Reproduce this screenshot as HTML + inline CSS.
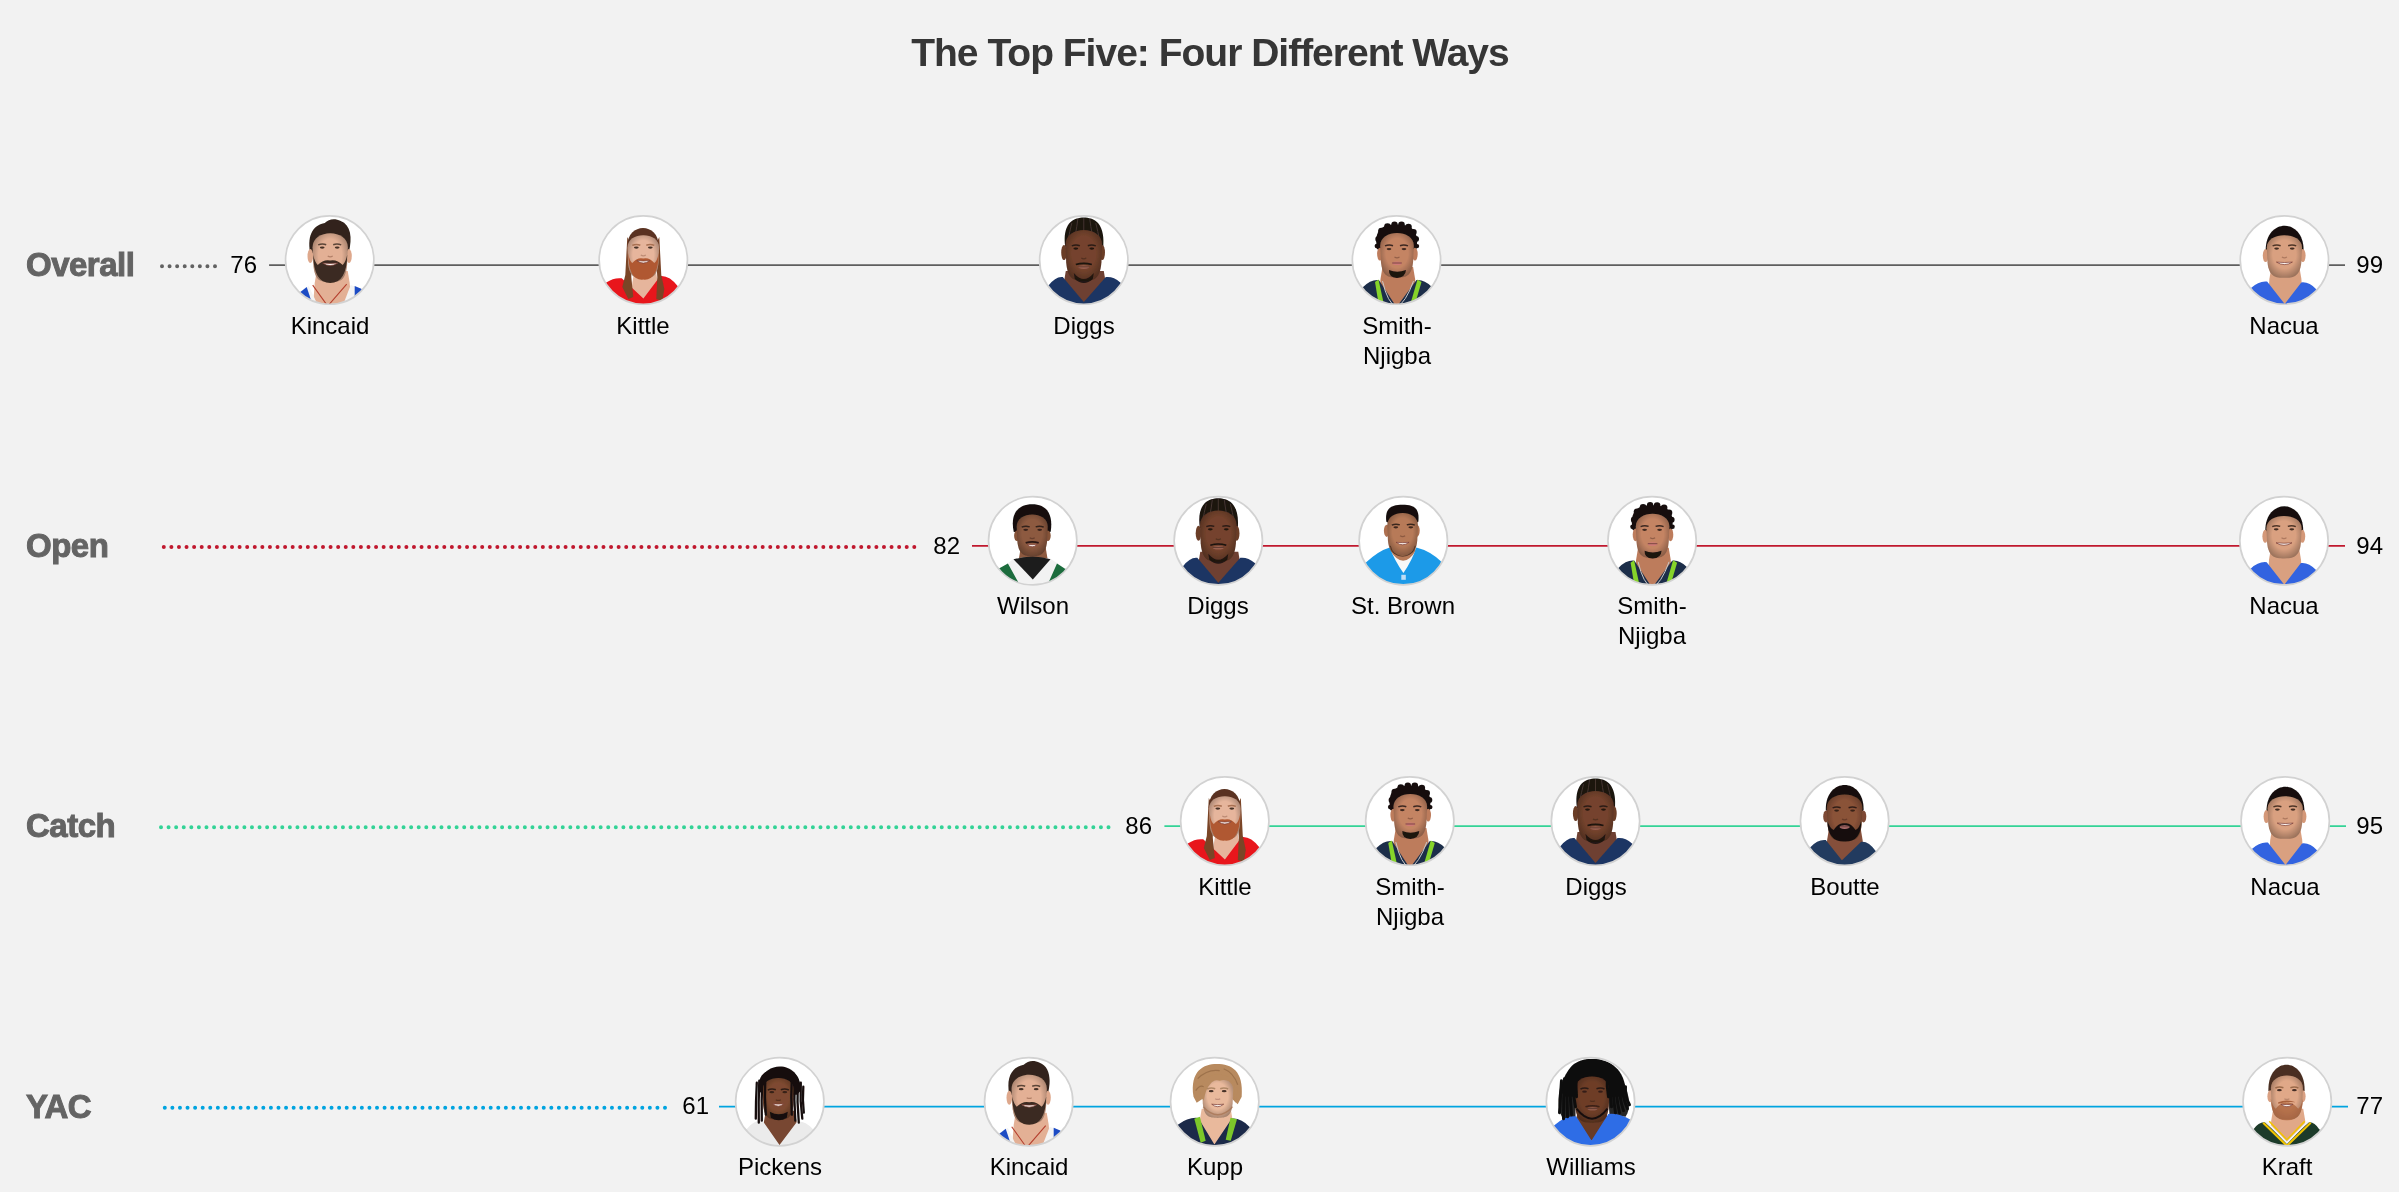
<!DOCTYPE html><html><head><meta charset="utf-8"><style>html,body{margin:0;padding:0;background:#f2f2f2;}
body{width:2399px;height:1192px;overflow:hidden;position:relative;font-family:"Liberation Sans",sans-serif;}
.t{position:absolute;white-space:nowrap;line-height:1;will-change:transform;}
.title{left:0;width:2420px;text-align:center;top:0;font-weight:700;font-size:39px;color:#363636;letter-spacing:-1px;}
.lab{left:26px;font-weight:700;font-size:33px;color:#646464;-webkit-text-stroke:1px #646464;letter-spacing:-0.5px;}
.num{font-size:24px;color:#000;}
.name{font-size:24px;color:#000;text-align:center;width:200px;line-height:30px;}
svg{position:absolute;left:0;top:0;}
</style></head><body><svg width="2399" height="1192" viewBox="0 0 2399 1192"><defs><filter id="soft" x="-5%" y="-5%" width="110%" height="110%"><feGaussianBlur stdDeviation="0.4"/></filter><radialGradient id="fsh" cx="0.5" cy="0.45" r="0.6"><stop offset="0.55" stop-color="#000" stop-opacity="0"/><stop offset="1" stop-color="#000" stop-opacity="0.32"/></radialGradient><clipPath id="c_kincaid"><circle cx="45" cy="45" r="44.2"/></clipPath><g id="p_kincaid"><g clip-path="url(#c_kincaid)"><circle cx="45" cy="45" r="45" fill="#fff"/><g filter="url(#soft)"><path d="M32.0 56.0 L63.0 56.0 L65.0 68.0 L67.0 96 L28.0 96 L30.0 68.0 Z" fill="#e3b095"/><path d="M10 80 L24 71 L36 96 L0 96 Z" fill="#f4f4f4"/><path d="M66 70 L78 74 L90 90 L56 96 Z" fill="#f4f4f4"/><path d="M15.7 77 L22 72 L30 96 L0 96 Z" fill="#1f4cc4"/><path d="M70 71 L76.5 73.7 L90 90 L70 96 Z" fill="#1f4cc4"/><path d="M28 70 L43 91 L62 69" stroke="#b5402e" stroke-width="1.1" fill="none"/><path d="M25.5 38 C22 18 30 10 40 8 C44 4 50 3 56 6 C66 10 68 22 64 38 L56 40 L34 40 Z" fill="#33241c"/><ellipse cx="25.6" cy="41.0" rx="2.8" ry="7.0" fill="#dea88c"/><ellipse cx="64.3" cy="41.0" rx="2.8" ry="7.0" fill="#dea88c"/><path d="M27.9 32.2 C27.9 13.4 63.1 13.4 63.1 32.2 L62.4 49.3 C61.0 65.4 55.5 67.0 45.5 67.0 C35.5 67.0 30.0 65.4 28.6 49.3 Z" fill="#e3b095"/><path d="M27.9 32.2 C27.9 13.4 63.1 13.4 63.1 32.2 L62.4 49.3 C61.0 65.4 55.5 67.0 45.5 67.0 C35.5 67.0 30.0 65.4 28.6 49.3 Z" fill="url(#fsh)"/><path d="M28.5 40 Q29 68 45.5 68 Q62 68 62.5 40 Q61 47 58 50 Q52 44 45.5 45.5 Q39 44 33 50 Q30 47 28.5 40 Z" fill="#3a2a20"/><ellipse cx="37.5" cy="32.5" rx="2.4" ry="1.1" fill="#2a1a14" opacity="0.85"/><ellipse cx="52.5" cy="32.5" rx="2.4" ry="1.1" fill="#2a1a14" opacity="0.85"/><path d="M33.5 29.8 Q37.5 28.0 41.5 29.6 M48.5 29.6 Q52.5 28.0 56.5 29.8" stroke="#3a2a20" stroke-width="1.5" fill="none" opacity="0.8"/><path d="M43.0 41.0 Q45.5 42.5 48.0 41.0" stroke="#8a5a44" stroke-width="1.2" fill="none" opacity="0.55"/><path d="M38.0 48.0 Q45.5 48.8 53.0 48.0 Q45.5 53.0 38.0 48.0 Z" fill="#fbf4f0" stroke="#7a3a30" stroke-width="0.7"/></g></g><circle cx="45" cy="45" r="44.15" fill="none" stroke="#d2d2d2" stroke-width="1.7"/></g><clipPath id="c_kittle"><circle cx="45" cy="45" r="44.2"/></clipPath><g id="p_kittle"><g clip-path="url(#c_kittle)"><circle cx="45" cy="45" r="45" fill="#fff"/><g filter="url(#soft)"><path d="M36.0 56.0 L57.6 56.0 L59.6 68.0 L61.6 96 L32.0 96 L34.0 68.0 Z" fill="#e6b59c"/><path d="M2.0 71.3 L8.0 67.3 Q15.7 62.2 23.4 63.2 L45.1 83.4 L62.0 61.0 Q70.8 60.0 79.7 71.3 L85.7 75.3 L96 96 L-6 96 Z" fill="#e8141e"/><path d="M29 22 L27 60 L24 72 L30 84 L35 82 L33 62 L33 30 Z" fill="#7a4428"/><path d="M61 22 L63 60 L66 74 L64 86 L58 84 L59 62 L57 30 Z" fill="#7a4428"/><path d="M29.0 32.0 C28.2 6.5 61.2 6.5 60.4 32.0 L56.4 36.0 L33.0 36.0 Z" fill="#5a3220"/><path d="M29.2 32.6 C29.2 16.1 60.8 16.1 60.8 32.6 L60.2 47.7 C58.9 61.8 54.0 63.2 45.0 63.2 C36.0 63.2 31.1 61.8 29.8 47.7 Z" fill="#e6b59c"/><path d="M29.2 32.6 C29.2 16.1 60.8 16.1 60.8 32.6 L60.2 47.7 C58.9 61.8 54.0 63.2 45.0 63.2 C36.0 63.2 31.1 61.8 29.8 47.7 Z" fill="url(#fsh)"/><path d="M30 38 Q30 66 45 64.5 Q60 66 60.4 38 Q59 46 56 48 Q51 42 45 43.5 Q39 42 34 48 Q31 46 30 38 Z" fill="#b05830"/><ellipse cx="38" cy="32.5" rx="2.4" ry="1.1" fill="#2a1a14" opacity="0.85"/><ellipse cx="52" cy="32.5" rx="2.4" ry="1.1" fill="#2a1a14" opacity="0.85"/><path d="M34.0 30.3 Q38.0 28.5 42.0 30.1 M48.0 30.1 Q52.0 28.5 56.0 30.3" stroke="#9a6040" stroke-width="1.5" fill="none" opacity="0.8"/><path d="M42.5 40.0 Q45.0 41.5 47.5 40.0" stroke="#9a6a54" stroke-width="1.2" fill="none" opacity="0.55"/><path d="M38.5 45.5 Q45.0 46.3 51.5 45.5 Q45.0 50.5 38.5 45.5 Z" fill="#fbf4f0" stroke="#7a3a30" stroke-width="0.7"/></g></g><circle cx="45" cy="45" r="44.15" fill="none" stroke="#d2d2d2" stroke-width="1.7"/></g><clipPath id="c_diggs"><circle cx="45" cy="45" r="44.2"/></clipPath><g id="p_diggs"><g clip-path="url(#c_diggs)"><circle cx="45" cy="45" r="45" fill="#fff"/><g filter="url(#soft)"><path d="M27.0 56.0 L65.0 56.0 L67.0 68.0 L69.0 96 L23.0 96 L25.0 68.0 Z" fill="#6e4030"/><path d="M3.7 74.5 L9.7 70.5 Q16.9 61.0 24.0 62.0 L45.0 87.0 L67.0 62.0 Q74.2 61.0 81.5 67.3 L87.5 71.3 L96 96 L-6 96 Z" fill="#1e3563"/><path d="M26.5 32 C24 14 30 6 38 3.5 C42 2 48 2 52 3.5 C60 6 66 14 64.5 32 L56 34 L34 34 Z" fill="#1a1411"/><path d="M33 8 Q31 16 29 26 M39 4 Q38 12 37 17 M45 3 L45 15 M51 4 Q52 12 53 17 M57 8 Q59 16 61 26" stroke="#4a3a32" stroke-width="0.9" fill="none"/><ellipse cx="25.2" cy="37.5" rx="2.8" ry="7.5" fill="#6a3c28"/><ellipse cx="63.4" cy="37.5" rx="2.8" ry="7.5" fill="#6a3c28"/><path d="M26.7 29.5 C26.7 9.9 63.3 9.9 63.3 29.5 L62.6 47.5 C61.1 64.4 55.0 66.0 45.0 66.0 C35.0 66.0 28.9 64.4 27.4 47.5 Z" fill="#74432d"/><path d="M26.7 29.5 C26.7 9.9 63.3 9.9 63.3 29.5 L62.6 47.5 C61.1 64.4 55.0 66.0 45.0 66.0 C35.0 66.0 28.9 64.4 27.4 47.5 Z" fill="url(#fsh)"/><path d="M35 58 Q45 70 55 58 L54 64 Q45 72 36 64 Z" fill="#1a1210" opacity="0.9"/><ellipse cx="37" cy="33.5" rx="2.4" ry="1.1" fill="#120c0a" opacity="0.85"/><ellipse cx="53" cy="33.5" rx="2.4" ry="1.1" fill="#120c0a" opacity="0.85"/><path d="M33.0 30.8 Q37.0 29.0 41.0 30.6 M49.0 30.6 Q53.0 29.0 57.0 30.8" stroke="#1a1210" stroke-width="1.5" fill="none" opacity="0.8"/><path d="M42.5 43.0 Q45.0 44.5 47.5 43.0" stroke="#3a2018" stroke-width="1.2" fill="none" opacity="0.55"/><path d="M37 49.5 Q45 47 53 49.5" stroke="#1a1210" stroke-width="1.6" fill="none"/><ellipse cx="45" cy="52" rx="5.5" ry="1.8" fill="#9a6050"/><path d="M39.5 51.7 L50.5 51.7" stroke="#3a2018" stroke-width="0.8" opacity="0.7"/></g></g><circle cx="45" cy="45" r="44.15" fill="none" stroke="#d2d2d2" stroke-width="1.7"/></g><clipPath id="c_jsn"><circle cx="45" cy="45" r="44.2"/></clipPath><g id="p_jsn"><g clip-path="url(#c_jsn)"><circle cx="45" cy="45" r="45" fill="#fff"/><g filter="url(#soft)"><path d="M31.0 52.0 L61.6 52.0 L63.6 64.0 L65.6 96 L27.0 96 L29.0 64.0 Z" fill="#bd7c5c"/><path d="M5.3 76.1 L11.3 72.1 Q19.4 63.9 27.4 64.9 L45.0 92.0 L65.0 64.9 Q72.4 63.9 79.8 71.3 L85.8 75.3 L96 96 L-6 96 Z" fill="#1f2f4a"/><path d="M23.5 67 L27 64.5 L33 92 L28 94 Z" fill="#86d42a"/><path d="M66 64.5 L70 67 L62 94 L58 92 Z" fill="#86d42a"/><path d="M31 66 Q36 88 45 92 Q54 88 62 66" stroke="#c8c8c8" stroke-width="1" fill="none"/><path d="M25.5 34 C22 14 31 9.5 45 9.5 C59 9.5 68 14 65 34 L56 38 L34 38 Z" fill="#151010"/><circle cx="27" cy="24" r="3.2" fill="#151010"/><circle cx="30" cy="16" r="3.4" fill="#151010"/><circle cx="36" cy="11.5" r="3.4" fill="#151010"/><circle cx="43" cy="9.5" r="3.2" fill="#151010"/><circle cx="50" cy="9.8" r="3.3" fill="#151010"/><circle cx="57" cy="12" r="3.3" fill="#151010"/><circle cx="62" cy="17" r="3.2" fill="#151010"/><circle cx="64.5" cy="24" r="3" fill="#151010"/><circle cx="25.5" cy="31" r="2.4" fill="#151010"/><circle cx="65.5" cy="31" r="2.2" fill="#151010"/><ellipse cx="28.4" cy="39.0" rx="2.8" ry="6.4" fill="#bd7c5c"/><ellipse cx="63.4" cy="39.0" rx="2.8" ry="6.4" fill="#bd7c5c"/><path d="M28.7 30.6 C28.7 13.6 62.3 13.6 62.3 30.6 L61.6 46.3 C60.3 61.0 54.5 62.4 45.5 62.4 C36.5 62.4 30.7 61.0 29.4 46.3 Z" fill="#c48464"/><path d="M28.7 30.6 C28.7 13.6 62.3 13.6 62.3 30.6 L61.6 46.3 C60.3 61.0 54.5 62.4 45.5 62.4 C36.5 62.4 30.7 61.0 29.4 46.3 Z" fill="url(#fsh)"/><path d="M37.5 55 Q45.5 58.5 54.5 55 Q54 62.4 45.5 62.8 Q37 62.4 37.5 55 Z" fill="#1a1210"/><ellipse cx="37.5" cy="34" rx="2.4" ry="1.1" fill="#2a1a14" opacity="0.85"/><ellipse cx="52.5" cy="34" rx="2.4" ry="1.1" fill="#2a1a14" opacity="0.85"/><path d="M33.5 30.8 Q37.5 29.0 41.5 30.6 M48.5 30.6 Q52.5 29.0 56.5 30.8" stroke="#1a1210" stroke-width="1.5" fill="none" opacity="0.8"/><path d="M43.0 42.0 Q45.5 43.5 48.0 42.0" stroke="#6a4030" stroke-width="1.2" fill="none" opacity="0.55"/><ellipse cx="45.5" cy="48.2" rx="4.8" ry="1.8" fill="#d07a78"/><path d="M40.7 47.9 L50.3 47.9" stroke="#3a2018" stroke-width="0.8" opacity="0.7"/></g></g><circle cx="45" cy="45" r="44.15" fill="none" stroke="#d2d2d2" stroke-width="1.7"/></g><clipPath id="c_nacua"><circle cx="45" cy="45" r="44.2"/></clipPath><g id="p_nacua"><g clip-path="url(#c_nacua)"><circle cx="45" cy="45" r="45" fill="#fff"/><g filter="url(#soft)"><path d="M32.0 52.0 L60.0 52.0 L62.0 64.0 L64.0 96 L28.0 96 L30.0 64.0 Z" fill="#d9a080"/><path d="M5.6 76.9 L11.6 72.9 Q19.6 65.4 27.7 66.4 L45.3 89.0 L61.9 67.3 Q69.5 66.3 77.1 74.3 L83.1 78.3 L96 96 L-6 96 Z" fill="#3064e0"/><path d="M26.3 36.0 C25.5 2.1 65.0 2.1 64.2 36.0 L60.2 40.0 L30.3 40.0 Z" fill="#17110e"/><ellipse cx="26.2" cy="40.5" rx="2.8" ry="6.5" fill="#d49878"/><ellipse cx="63.4" cy="40.5" rx="2.8" ry="6.5" fill="#d49878"/><path d="M27.4 32.4 C27.4 16.1 62.6 16.1 62.6 32.4 L61.9 47.3 C60.5 61.3 54.0 62.7 45.0 62.7 C36.0 62.7 29.5 61.3 28.1 47.3 Z" fill="#d9a080"/><path d="M27.4 32.4 C27.4 16.1 62.6 16.1 62.6 32.4 L61.9 47.3 C60.5 61.3 54.0 62.7 45.0 62.7 C36.0 62.7 29.5 61.3 28.1 47.3 Z" fill="url(#fsh)"/><ellipse cx="37.2" cy="33.5" rx="2.4" ry="1.1" fill="#2a1a14" opacity="0.85"/><ellipse cx="52.8" cy="33.5" rx="2.4" ry="1.1" fill="#2a1a14" opacity="0.85"/><path d="M33.2 30.8 Q37.2 29.0 41.2 30.6 M48.8 30.6 Q52.8 29.0 56.8 30.8" stroke="#2a1a12" stroke-width="1.5" fill="none" opacity="0.8"/><path d="M42.5 42.0 Q45.0 43.5 47.5 42.0" stroke="#8a5a44" stroke-width="1.2" fill="none" opacity="0.55"/><path d="M37.0 47.0 Q45.0 47.8 53.0 47.0 Q45.0 52.0 37.0 47.0 Z" fill="#fbf4f0" stroke="#7a3a30" stroke-width="0.7"/></g></g><circle cx="45" cy="45" r="44.15" fill="none" stroke="#d2d2d2" stroke-width="1.7"/></g><clipPath id="c_wilson"><circle cx="45" cy="45" r="44.2"/></clipPath><g id="p_wilson"><g clip-path="url(#c_wilson)"><circle cx="45" cy="45" r="45" fill="#fff"/><g filter="url(#soft)"><path d="M33.0 52.0 L58.0 52.0 L60.0 64.0 L62.0 96 L29.0 96 L31.0 64.0 Z" fill="#8d5a40"/><path d="M14 72 L26 63 Q45 60 63 63 L76 72 L70 96 L20 96 Z" fill="#f2f2f2"/><path d="M-6 96 L-6 76 L11.7 72.5 L20.2 67.7 L31.4 88 L38 96 Z" fill="#1a6c3c"/><path d="M96 96 L96 76 L77.3 73 L69.3 67.7 L61.2 86 L54 96 Z" fill="#1a6c3c"/><path d="M25.8 63.5 Q45 58 62.8 63.5 L45.1 83.8 Z" fill="#1c1c1c"/><path d="M26 36 C22 16 32 8.5 44.5 8.5 C57 8.5 66 16 63 36 L54 38 L34 38 Z" fill="#141010"/><ellipse cx="29.2" cy="39.9" rx="2.8" ry="5.2" fill="#855238"/><ellipse cx="60.2" cy="39.9" rx="2.8" ry="5.2" fill="#855238"/><path d="M29.0 30.7 C29.0 14.7 60.0 14.7 60.0 30.7 L59.4 45.3 C58.1 59.1 52.5 60.4 44.5 60.4 C36.5 60.4 30.9 59.1 29.6 45.3 Z" fill="#8d5a40"/><path d="M29.0 30.7 C29.0 14.7 60.0 14.7 60.0 30.7 L59.4 45.3 C58.1 59.1 52.5 60.4 44.5 60.4 C36.5 60.4 30.9 59.1 29.6 45.3 Z" fill="url(#fsh)"/><ellipse cx="38" cy="34" rx="2.4" ry="1.1" fill="#2a1a14" opacity="0.85"/><ellipse cx="52" cy="34" rx="2.4" ry="1.1" fill="#2a1a14" opacity="0.85"/><path d="M34.0 31.3 Q38.0 29.5 42.0 31.1 M48.0 31.1 Q52.0 29.5 56.0 31.3" stroke="#1a1210" stroke-width="1.5" fill="none" opacity="0.8"/><path d="M42.0 42.0 Q44.5 43.5 47.0 42.0" stroke="#4a2a1e" stroke-width="1.2" fill="none" opacity="0.55"/><path d="M38 47 Q44.5 45 51 47" stroke="#2a1812" stroke-width="1.8" fill="none"/><path d="M39.5 48.5 Q44.5 49.3 49.5 48.5 Q44.5 53.5 39.5 48.5 Z" fill="#fbf4f0" stroke="#7a3a30" stroke-width="0.7"/></g></g><circle cx="45" cy="45" r="44.15" fill="none" stroke="#d2d2d2" stroke-width="1.7"/></g><clipPath id="c_stbrown"><circle cx="45" cy="45" r="44.2"/></clipPath><g id="p_stbrown"><g clip-path="url(#c_stbrown)"><circle cx="45" cy="45" r="45" fill="#fff"/><g filter="url(#soft)"><path d="M33.4 48.0 L56.0 48.0 L58.0 60.0 L60.0 96 L29.4 96 L31.4 60.0 Z" fill="#b77a58"/><path d="M29 54 L61 54 L45.1 80 Z" fill="#f8f8f8"/><path d="M31.4 54 Q45 76 58 54 Z" fill="#b77a58"/><path d="M-6 80 L7.3 66.9 Q20 55 31.4 51.6 Q36 64 45.1 77.3 Q54 64 58 51.6 Q72 55 83.4 66.1 L96 80 L96 96 L-6 96 Z" fill="#1c9ae8"/><rect x="43" y="79" width="4.5" height="5" fill="#e8eef8" opacity="0.8"/><path d="M28 26 C26 10 36 8.9 44.3 8.9 C52.5 8.9 62 10 60 26 L52 30 L36 30 Z" fill="#17110e"/><ellipse cx="28.4" cy="35.0" rx="2.8" ry="6.1" fill="#ae7050"/><ellipse cx="58.6" cy="35.0" rx="2.8" ry="6.1" fill="#ae7050"/><path d="M29.0 29.4 C29.0 13.1 59.6 13.1 59.6 29.4 L59.0 44.3 C57.8 58.2 52.3 59.6 44.3 59.6 C36.3 59.6 30.8 58.2 29.6 44.3 Z" fill="#b77a58"/><path d="M29.0 29.4 C29.0 13.1 59.6 13.1 59.6 29.4 L59.0 44.3 C57.8 58.2 52.3 59.6 44.3 59.6 C36.3 59.6 30.8 58.2 29.6 44.3 Z" fill="url(#fsh)"/><path d="M32 50 Q34 60 44.3 60.5 Q54.6 60 57 50" stroke="#2a1a12" stroke-width="1" fill="none" opacity="0.6"/><ellipse cx="37.5" cy="31.5" rx="2.4" ry="1.1" fill="#2a1a14" opacity="0.85"/><ellipse cx="52.5" cy="31.5" rx="2.4" ry="1.1" fill="#2a1a14" opacity="0.85"/><path d="M33.5 29.3 Q37.5 27.5 41.5 29.1 M48.5 29.1 Q52.5 27.5 56.5 29.3" stroke="#1a1210" stroke-width="1.5" fill="none" opacity="0.8"/><path d="M41.8 40.0 Q44.3 41.5 46.8 40.0" stroke="#6a4030" stroke-width="1.2" fill="none" opacity="0.55"/><path d="M37.8 46.5 Q44.3 47.3 50.8 46.5 Q44.3 51.5 37.8 46.5 Z" fill="#fbf4f0" stroke="#7a3a30" stroke-width="0.7"/></g></g><circle cx="45" cy="45" r="44.15" fill="none" stroke="#d2d2d2" stroke-width="1.7"/></g><clipPath id="c_boutte"><circle cx="45" cy="45" r="44.2"/></clipPath><g id="p_boutte"><g clip-path="url(#c_boutte)"><circle cx="45" cy="45" r="45" fill="#fff"/><g filter="url(#soft)"><path d="M29.5 52.0 L61.0 52.0 L63.0 64.0 L65.0 96 L25.5 96 L27.5 64.0 Z" fill="#85503a"/><path d="M4.5 75.3 L10.5 71.3 Q18.4 63.0 26.2 64.0 L42.3 84.2 L61.6 65.7 Q68.8 64.7 76.1 74.9 L82.1 78.9 L96 96 L-6 96 Z" fill="#243a5e"/><path d="M26.2 34.0 C25.4 0.5 64.8 0.5 64.0 34.0 L60.0 38.0 L30.2 38.0 Z" fill="#17110e"/><ellipse cx="26.4" cy="40.3" rx="2.8" ry="6.0" fill="#7e4a34"/><ellipse cx="63.9" cy="40.3" rx="2.8" ry="6.0" fill="#7e4a34"/><path d="M27.2 31.8 C27.2 14.0 62.8 14.0 62.8 31.8 L62.1 48.1 C60.7 63.4 55.0 64.9 45.0 64.9 C35.0 64.9 29.3 63.4 27.9 48.1 Z" fill="#8a5238"/><path d="M27.2 31.8 C27.2 14.0 62.8 14.0 62.8 31.8 L62.1 48.1 C60.7 63.4 55.0 64.9 45.0 64.9 C35.0 64.9 29.3 63.4 27.9 48.1 Z" fill="url(#fsh)"/><path d="M27.8 44.7 Q28 66 45 65.5 Q62 66 61.6 44.7 Q60 52 56 54 Q51 46 45 47.2 Q39 46 34 54 Q30 52 27.8 44.7 Z" fill="#141010"/><ellipse cx="37" cy="34.5" rx="2.4" ry="1.1" fill="#2a1a14" opacity="0.85"/><ellipse cx="53" cy="34.5" rx="2.4" ry="1.1" fill="#2a1a14" opacity="0.85"/><path d="M33.0 31.8 Q37.0 30.0 41.0 31.6 M49.0 31.6 Q53.0 30.0 57.0 31.8" stroke="#1a1210" stroke-width="1.5" fill="none" opacity="0.8"/><path d="M42.5 43.0 Q45.0 44.5 47.5 43.0" stroke="#4a2a1e" stroke-width="1.2" fill="none" opacity="0.55"/><ellipse cx="45" cy="51" rx="5" ry="1.8" fill="#b07070"/><path d="M40.0 50.7 L50.0 50.7" stroke="#3a2018" stroke-width="0.8" opacity="0.7"/></g></g><circle cx="45" cy="45" r="44.15" fill="none" stroke="#d2d2d2" stroke-width="1.7"/></g><clipPath id="c_pickens"><circle cx="45" cy="45" r="44.2"/></clipPath><g id="p_pickens"><g clip-path="url(#c_pickens)"><circle cx="45" cy="45" r="45" fill="#fff"/><g filter="url(#soft)"><path d="M31.0 54.0 L60.0 54.0 L62.0 66.0 L64.0 96 L27.0 96 L29.0 66.0 Z" fill="#784630"/><path d="M6.5 75.7 L12.5 71.7 Q20.1 63.0 27.8 64.0 L44.7 88.2 L62.4 64.9 Q70.0 63.9 77.7 72.0 L83.7 76.0 L96 96 L-6 96 Z" fill="#ebebeb"/><path d="M24.0 34.0 C23.2 1.6 66.8 1.6 66.0 34.0 L62.0 38.0 L28.0 38.0 Z" fill="#161010"/><path d="M27.7 33.2 C27.7 17.2 59.3 17.2 59.3 33.2 L58.7 47.9 C57.4 61.7 52.5 63.0 43.5 63.0 C34.5 63.0 29.6 61.7 28.3 47.9 Z" fill="#7e4a30"/><path d="M27.7 33.2 C27.7 17.2 59.3 17.2 59.3 33.2 L58.7 47.9 C57.4 61.7 52.5 63.0 43.5 63.0 C34.5 63.0 29.6 61.7 28.3 47.9 Z" fill="url(#fsh)"/><path d="M35 55 Q44 60 53 55 L52 61 Q44 66 36 61 Z" fill="#141010"/><path d="M22 26 Q21 44.0 21 62" stroke="#161010" stroke-width="2.3" fill="none" stroke-linecap="round"/><path d="M24.5 24 Q23.5 45.0 24 66" stroke="#161010" stroke-width="2.3" fill="none" stroke-linecap="round"/><path d="M27.5 22 Q26.5 43.0 27 64" stroke="#161010" stroke-width="2.3" fill="none" stroke-linecap="round"/><path d="M30.5 22 Q29.5 40.0 31 58" stroke="#161010" stroke-width="2.3" fill="none" stroke-linecap="round"/><path d="M57 22 Q56 40.0 57 58" stroke="#161010" stroke-width="2.3" fill="none" stroke-linecap="round"/><path d="M60 22 Q59 43.0 60.5 64" stroke="#161010" stroke-width="2.3" fill="none" stroke-linecap="round"/><path d="M63 24 Q62 45.0 64 66" stroke="#161010" stroke-width="2.3" fill="none" stroke-linecap="round"/><path d="M66 26 Q65 44.0 67.5 62" stroke="#161010" stroke-width="2.3" fill="none" stroke-linecap="round"/><path d="M68.5 30 Q67.5 43.0 69 56" stroke="#161010" stroke-width="2.3" fill="none" stroke-linecap="round"/><path d="M24 30 C24 16 32 13 44 13 C56 13 65 16 65 30 Q60 20 44 19.5 Q29 20 24 30 Z" fill="#161010"/><ellipse cx="37.0" cy="35.5" rx="2.4" ry="1.1" fill="#2a1a14" opacity="0.85"/><ellipse cx="50.0" cy="35.5" rx="2.4" ry="1.1" fill="#2a1a14" opacity="0.85"/><path d="M33.0 33.3 Q37.0 31.5 41.0 33.1 M46.0 33.1 Q50.0 31.5 54.0 33.3" stroke="#1a1210" stroke-width="1.5" fill="none" opacity="0.8"/><path d="M41.0 43.0 Q43.5 44.5 46.0 43.0" stroke="#3a2018" stroke-width="1.2" fill="none" opacity="0.55"/><path d="M38.0 47.0 Q43.5 47.8 49.0 47.0 Q43.5 52.0 38.0 47.0 Z" fill="#fbf4f0" stroke="#7a3a30" stroke-width="0.7"/></g></g><circle cx="45" cy="45" r="44.15" fill="none" stroke="#d2d2d2" stroke-width="1.7"/></g><clipPath id="c_kupp"><circle cx="45" cy="45" r="44.2"/></clipPath><g id="p_kupp"><g clip-path="url(#c_kupp)"><circle cx="45" cy="45" r="45" fill="#fff"/><g filter="url(#soft)"><path d="M32.0 52.0 L61.0 52.0 L63.0 64.0 L65.0 96 L28.0 96 L30.0 64.0 Z" fill="#e9b99c"/><path d="M2.5 71.7 L8.5 67.7 Q18.6 60.2 28.6 61.2 L44.7 87.8 L62.0 62.0 Q71.1 61.0 80.2 70.5 L86.2 74.5 L96 96 L-6 96 Z" fill="#1b2a48"/><path d="M24.6 62 L30.2 60 L36 84 L31 86 Z" fill="#7cc72a"/><path d="M60.8 61 L67.3 62.5 L61 84 L56 83 Z" fill="#7cc72a"/><path d="M23.8 40 C20 14 34 7.3 47 7.3 C62 7.3 74 14 72 40 L68 47.5 L60 40 L36 40 L27 46 Z" fill="#b88a5e"/><path d="M32.5 32.9 C32.5 17.7 63.5 17.7 63.5 32.9 L62.9 46.9 C61.6 59.9 57.0 61.2 48.0 61.2 C39.0 61.2 34.4 59.9 33.1 46.9 Z" fill="#e9b99c"/><path d="M32.5 32.9 C32.5 17.7 63.5 17.7 63.5 32.9 L62.9 46.9 C61.6 59.9 57.0 61.2 48.0 61.2 C39.0 61.2 34.4 59.9 33.1 46.9 Z" fill="url(#fsh)"/><path d="M33.5 50 Q48 66 63 50" stroke="#a06a48" stroke-width="1.5" fill="none" opacity="0.6"/><path d="M31 40 C30 24 38 18 48 18 C56 18 62 20 64 26 Q56 22 50 24 Q44 22 40 28 Q36 32 34 44 Z" fill="#b88a5e"/><path d="M64 26 Q66 34 64.5 44 L66 46 Q69 34 66 24 Z" fill="#b88a5e"/><path d="M28 22 Q38 12 50 14 M54 12 Q64 16 68 28 M26 34 Q30 28 34 30" stroke="#8a6040" stroke-width="1.2" fill="none" opacity="0.6"/><ellipse cx="41.5" cy="34.5" rx="2.4" ry="1.1" fill="#2a1a14" opacity="0.85"/><ellipse cx="54.5" cy="34.5" rx="2.4" ry="1.1" fill="#2a1a14" opacity="0.85"/><path d="M37.5 32.3 Q41.5 30.5 45.5 32.1 M50.5 32.1 Q54.5 30.5 58.5 32.3" stroke="#a07a58" stroke-width="1.5" fill="none" opacity="0.8"/><path d="M45.5 42.0 Q48.0 43.5 50.5 42.0" stroke="#a07060" stroke-width="1.2" fill="none" opacity="0.55"/><path d="M42.0 47.5 Q48.0 48.3 54.0 47.5 Q48.0 52.5 42.0 47.5 Z" fill="#fbf4f0" stroke="#7a3a30" stroke-width="0.7"/></g></g><circle cx="45" cy="45" r="44.15" fill="none" stroke="#d2d2d2" stroke-width="1.7"/></g><clipPath id="c_williams"><circle cx="45" cy="45" r="44.2"/></clipPath><g id="p_williams"><g clip-path="url(#c_williams)"><circle cx="45" cy="45" r="45" fill="#fff"/><g filter="url(#soft)"><path d="M16 25 C10 45 14 60 20 64 L30 60 L30 30 L62 30 L64 58 L80 60 C86 52 84 38 78 25 Z" fill="#0f0d0c" opacity="0.9"/><path d="M32.0 55.0 L60.8 55.0 L62.8 67.0 L64.8 96 L28.0 96 L30.0 67.0 Z" fill="#683a26"/><path d="M40 78 L46 84 L54 78 L54 96 L40 96 Z" fill="#b8c0c8"/><path d="M2.9 72.5 L8.9 68.5 Q19.8 58.6 30.6 59.6 L46.0 83.8 L62.8 57.2 Q73.7 56.2 84.6 62.8 L90.6 66.8 L96 96 L-6 96 Z" fill="#2f6de6"/><path d="M16.0 36.0 C15.2 -8.8 80.8 -8.8 80.0 36.0 L76.0 40.0 L20.0 40.0 Z" fill="#0f0d0c"/><path d="M29.0 33.2 C29.0 15.5 64.0 15.5 64.0 33.2 L63.3 49.3 C61.9 64.5 56.5 66.0 46.5 66.0 C36.5 66.0 31.1 64.5 29.7 49.3 Z" fill="#6e3e28"/><path d="M29.0 33.2 C29.0 15.5 64.0 15.5 64.0 33.2 L63.3 49.3 C61.9 64.5 56.5 66.0 46.5 66.0 C36.5 66.0 31.1 64.5 29.7 49.3 Z" fill="url(#fsh)"/><path d="M31 52 Q46.5 72 62 52" stroke="#161010" stroke-width="2" fill="none"/><path d="M16 24 Q15 40.0 14 56" stroke="#0f0d0c" stroke-width="3" fill="none" stroke-linecap="round"/><path d="M19 22 Q18 42.0 18 62" stroke="#0f0d0c" stroke-width="3" fill="none" stroke-linecap="round"/><path d="M22 20 Q21 40.0 22 60" stroke="#0f0d0c" stroke-width="3" fill="none" stroke-linecap="round"/><path d="M25 20 Q24 39.0 26 58" stroke="#0f0d0c" stroke-width="3" fill="none" stroke-linecap="round"/><path d="M28 20 Q27 35.0 30 50" stroke="#0f0d0c" stroke-width="3" fill="none" stroke-linecap="round"/><path d="M31 18 Q30 29.0 31 40" stroke="#0f0d0c" stroke-width="3" fill="none" stroke-linecap="round"/><path d="M62 18 Q61 29.0 63 40" stroke="#0f0d0c" stroke-width="3" fill="none" stroke-linecap="round"/><path d="M65 20 Q64 35.0 66 50" stroke="#0f0d0c" stroke-width="3" fill="none" stroke-linecap="round"/><path d="M68 20 Q67 38.0 70 56" stroke="#0f0d0c" stroke-width="3" fill="none" stroke-linecap="round"/><path d="M71 22 Q70 39.0 74 56" stroke="#0f0d0c" stroke-width="3" fill="none" stroke-linecap="round"/><path d="M74 24 Q73 39.0 78 54" stroke="#0f0d0c" stroke-width="3" fill="none" stroke-linecap="round"/><path d="M77 26 Q76 39.0 82 52" stroke="#0f0d0c" stroke-width="3" fill="none" stroke-linecap="round"/><path d="M80 30 Q79 39.0 84 48" stroke="#0f0d0c" stroke-width="3" fill="none" stroke-linecap="round"/><path d="M22 34 C16 10 32 2.4 46 2.4 C62 2.4 78 10 72 34 Q66 18 46 19 Q28 18 22 34 Z" fill="#0f0d0c"/><ellipse cx="39" cy="35" rx="2.4" ry="1.1" fill="#2a1a14" opacity="0.85"/><ellipse cx="55" cy="35" rx="2.4" ry="1.1" fill="#2a1a14" opacity="0.85"/><path d="M35.0 32.3 Q39.0 30.5 43.0 32.1 M51.0 32.1 Q55.0 30.5 59.0 32.3" stroke="#1a1210" stroke-width="1.5" fill="none" opacity="0.8"/><path d="M44.5 44.0 Q47.0 45.5 49.5 44.0" stroke="#3a2018" stroke-width="1.2" fill="none" opacity="0.55"/><path d="M40 50 Q47 48 54 50" stroke="#3a2018" stroke-width="1.6" fill="none"/><ellipse cx="47" cy="52" rx="5" ry="1.8" fill="#8e5a4a"/><path d="M42.0 51.7 L52.0 51.7" stroke="#3a2018" stroke-width="0.8" opacity="0.7"/></g></g><circle cx="45" cy="45" r="44.15" fill="none" stroke="#d2d2d2" stroke-width="1.7"/></g><clipPath id="c_kraft"><circle cx="45" cy="45" r="44.2"/></clipPath><g id="p_kraft"><g clip-path="url(#c_kraft)"><circle cx="45" cy="45" r="45" fill="#fff"/><g filter="url(#soft)"><path d="M31.0 52.0 L61.0 52.0 L63.0 64.0 L65.0 96 L27.0 96 L29.0 64.0 Z" fill="#e0a888"/><path d="M5.3 76.5 L11.3 72.5 Q17.1 64.7 23.0 65.7 L44.7 85.4 L66.5 65.7 Q71.8 64.7 77.0 72.5 L83.0 76.5 L96 96 L-6 96 Z" fill="#1e3b2a"/><path d="M21 66 L44.7 89 L68.5 66" stroke="#f2c400" stroke-width="2.2" fill="none"/><path d="M24 65 L44.7 86 L65.5 65" stroke="#f4f4f4" stroke-width="1.8" fill="none"/><path d="M27 64.5 L44.7 83 L62.5 64.5" stroke="#f2c400" stroke-width="1.6" fill="none"/><path d="M26.2 34.0 C25.4 -0.5 63.2 -0.5 62.4 34.0 L58.4 38.0 L30.2 38.0 Z" fill="#4a2e20"/><ellipse cx="28.0" cy="39.5" rx="2.8" ry="6.0" fill="#d9a082"/><ellipse cx="60.6" cy="39.5" rx="2.8" ry="6.0" fill="#d9a082"/><path d="M28.7 31.4 C28.7 14.6 60.7 14.6 60.7 31.4 L60.1 46.9 C58.8 61.4 53.7 62.8 44.7 62.8 C35.7 62.8 30.6 61.4 29.3 46.9 Z" fill="#e0a888"/><path d="M28.7 31.4 C28.7 14.6 60.7 14.6 60.7 31.4 L60.1 46.9 C58.8 61.4 53.7 62.8 44.7 62.8 C35.7 62.8 30.6 61.4 29.3 46.9 Z" fill="url(#fsh)"/><path d="M28.6 42 Q29 64 44.7 63.5 Q60.4 64 60.8 42 Q59 50 56 52 Q50 45 44.7 46 Q39 45 33.5 52 Q30.5 50 28.6 42 Z" fill="#a8603a" opacity="0.75"/><path d="M36 45.5 Q44.7 42 53.5 45.5 Q44.7 44.5 36 47 Z" fill="#a8603a"/><ellipse cx="37.2" cy="33.5" rx="2.4" ry="1.1" fill="#2a1a14" opacity="0.85"/><ellipse cx="52.2" cy="33.5" rx="2.4" ry="1.1" fill="#2a1a14" opacity="0.85"/><path d="M33.2 31.3 Q37.2 29.5 41.2 31.1 M48.2 31.1 Q52.2 29.5 56.2 31.3" stroke="#8a5a3a" stroke-width="1.5" fill="none" opacity="0.8"/><path d="M42.2 42.0 Q44.7 43.5 47.2 42.0" stroke="#9a6a54" stroke-width="1.2" fill="none" opacity="0.55"/><path d="M38.7 47.5 Q44.7 48.3 50.7 47.5 Q44.7 52.5 38.7 47.5 Z" fill="#fbf4f0" stroke="#7a3a30" stroke-width="0.7"/></g></g><circle cx="45" cy="45" r="44.15" fill="none" stroke="#d2d2d2" stroke-width="1.7"/></g></defs><line x1="162.00" y1="266.20" x2="215.01" y2="266.20" stroke="#626262" stroke-width="4" stroke-linecap="round" stroke-dasharray="0 7.5714"/><line x1="269.1" y1="265.1" x2="2345.0" y2="265.1" stroke="#5e5e5e" stroke-width="1.8"/><use href="#p_kincaid" x="284.7" y="215.1"/><use href="#p_kittle" x="598.3" y="215.1"/><use href="#p_diggs" x="1038.8" y="215.1"/><use href="#p_jsn" x="1351.5" y="215.1"/><use href="#p_nacua" x="2239.4" y="215.1"/><line x1="163.80" y1="546.90" x2="914.31" y2="546.90" stroke="#c0182e" stroke-width="4" stroke-linecap="round" stroke-dasharray="0 7.5808"/><line x1="972.0" y1="545.8" x2="2345.0" y2="545.8" stroke="#c0182e" stroke-width="1.8"/><use href="#p_wilson" x="987.7" y="495.8"/><use href="#p_diggs" x="1173.3" y="495.8"/><use href="#p_stbrown" x="1358.3" y="495.8"/><use href="#p_jsn" x="1607.1" y="495.8"/><use href="#p_nacua" x="2239.0" y="495.8"/><line x1="161.00" y1="827.20" x2="1108.51" y2="827.20" stroke="#33d396" stroke-width="4" stroke-linecap="round" stroke-dasharray="0 7.5800"/><line x1="1164.4" y1="826.1" x2="2346.0" y2="826.1" stroke="#33d396" stroke-width="1.8"/><use href="#p_kittle" x="1179.8" y="776.1"/><use href="#p_jsn" x="1364.8" y="776.1"/><use href="#p_diggs" x="1550.5" y="776.1"/><use href="#p_boutte" x="1799.6" y="776.1"/><use href="#p_nacua" x="2240.2" y="776.1"/><line x1="164.80" y1="1107.80" x2="665.01" y2="1107.80" stroke="#00a4e0" stroke-width="4" stroke-linecap="round" stroke-dasharray="0 7.5788"/><line x1="719.0" y1="1106.7" x2="2348.0" y2="1106.7" stroke="#00a4e0" stroke-width="1.8"/><use href="#p_pickens" x="734.8" y="1056.7"/><use href="#p_kincaid" x="983.7" y="1056.7"/><use href="#p_kupp" x="1169.7" y="1056.7"/><use href="#p_williams" x="1545.5" y="1056.7"/><use href="#p_kraft" x="2242.2" y="1056.7"/></svg><div class="t title" style="top:33.3px">The Top Five: Four Different Ways</div>
<div class="t name" style="left:229.7px;top:310.7px">Kincaid</div>
<div class="t name" style="left:543.3px;top:310.7px">Kittle</div>
<div class="t name" style="left:983.8px;top:310.7px">Diggs</div>
<div class="t name" style="left:1296.5px;top:310.7px">Smith-<br>Njigba</div>
<div class="t name" style="left:2184.4px;top:310.7px">Nacua</div>
<div class="t lab" style="top:248.0px">Overall</div>
<div class="t num" style="left:57.3px;width:200px;text-align:right;top:252.8px">76</div>
<div class="t num" style="left:2183px;width:200px;text-align:right;top:252.8px">99</div>
<div class="t name" style="left:932.7px;top:591.4px">Wilson</div>
<div class="t name" style="left:1118.3px;top:591.4px">Diggs</div>
<div class="t name" style="left:1303.3px;top:591.4px">St. Brown</div>
<div class="t name" style="left:1552.1px;top:591.4px">Smith-<br>Njigba</div>
<div class="t name" style="left:2184.0px;top:591.4px">Nacua</div>
<div class="t lab" style="top:528.7px">Open</div>
<div class="t num" style="left:759.6px;width:200px;text-align:right;top:533.5px">82</div>
<div class="t num" style="left:2183px;width:200px;text-align:right;top:533.5px">94</div>
<div class="t name" style="left:1124.8px;top:871.7px">Kittle</div>
<div class="t name" style="left:1309.8px;top:871.7px">Smith-<br>Njigba</div>
<div class="t name" style="left:1495.5px;top:871.7px">Diggs</div>
<div class="t name" style="left:1744.6px;top:871.7px">Boutte</div>
<div class="t name" style="left:2185.2px;top:871.7px">Nacua</div>
<div class="t lab" style="top:809.0px">Catch</div>
<div class="t num" style="left:952.0px;width:200px;text-align:right;top:813.8px">86</div>
<div class="t num" style="left:2183px;width:200px;text-align:right;top:813.8px">95</div>
<div class="t name" style="left:679.8px;top:1152.3px">Pickens</div>
<div class="t name" style="left:928.7px;top:1152.3px">Kincaid</div>
<div class="t name" style="left:1114.7px;top:1152.3px">Kupp</div>
<div class="t name" style="left:1490.5px;top:1152.3px">Williams</div>
<div class="t name" style="left:2187.2px;top:1152.3px">Kraft</div>
<div class="t lab" style="top:1089.6px">YAC</div>
<div class="t num" style="left:508.5px;width:200px;text-align:right;top:1094.4px">61</div>
<div class="t num" style="left:2183px;width:200px;text-align:right;top:1094.4px">77</div></body></html>
